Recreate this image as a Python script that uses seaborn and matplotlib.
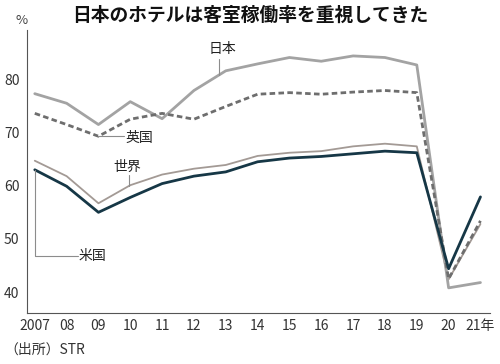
import numpy as np
import pandas as pd
import seaborn as sns
import matplotlib.pyplot as plt

# ============================================
# DATOS (客室稼働率, %)
# ============================================
years = np.arange(2007, 2022)
tick_labels = ["2007", "08", "09", "10", "11", "12", "13", "14",
               "15", "16", "17", "18", "19", "20", "21年"]

japan = [77.3, 75.5, 71.5, 75.8, 72.6, 77.9, 81.6, 82.9, 84.1, 83.4, 84.4, 84.1, 82.7, 40.8, 41.8]
uk = [73.6, 71.5, 69.3, 72.5, 73.6, 72.5, 74.9, 77.2, 77.5, 77.2, 77.6, 77.9, 77.5, 42.5, 53.4]
world = [64.7, 61.8, 56.7, 60.1, 62.1, 63.2, 63.9, 65.6, 66.2, 66.5, 67.4, 67.9, 67.4, 42.4, 52.8]
usa = [63.0, 59.9, 55.0, 57.8, 60.4, 61.8, 62.6, 64.5, 65.2, 65.5, 66.0, 66.5, 66.2, 44.4, 57.9]

# ============================================
# ESTILO
# ============================================
sns.set_theme(style="white")
plt.rcParams["font.family"] = ["Noto Sans CJK JP", "DejaVu Sans"]

fig = plt.figure(figsize=(5, 3.64), dpi=100)
ax = fig.add_axes([0.053, 0.139, 0.927, 0.779])

c_japan = "#a3a3a3"
c_uk = "#6e6e6e"
c_world = "#a39a95"
c_usa = "#163746"
c_lead = "#8c8c8c"

sns.lineplot(x=years, y=world, ax=ax, color=c_world, linewidth=1.3)
sns.lineplot(x=years, y=japan, ax=ax, color=c_japan, linewidth=2.0)
sns.lineplot(x=years, y=uk, ax=ax, color=c_uk, linewidth=2.0, linestyle=(0, (2, 1.2)))
sns.lineplot(x=years, y=usa, ax=ax, color=c_usa, linewidth=2.0)

ax.set_xlim(2006.74, 2021.3)
ax.set_ylim(36, 89.3)
ax.set_xticks(years)
ax.set_xticklabels(tick_labels)
ax.set_yticks([40, 50, 60, 70, 80])

for s in ["top", "right"]:
    ax.spines[s].set_visible(False)
for s in ["left", "bottom"]:
    ax.spines[s].set_color("#555555")
    ax.spines[s].set_linewidth(0.8)

ax.tick_params(axis="y", direction="out", length=4, width=0.8, color="#555555",
               labelsize=10, labelcolor="#333333", pad=1)
ax.tick_params(axis="x", direction="in", length=4, width=0.8, color="#555555",
               labelsize=10, labelcolor="#333333", pad=4)
ax.set_xlabel("")
ax.set_ylabel("")

# ============================================
# ETIQUETAS CON LÍNEAS GUÍA
# ============================================
# 日本
xj = 2012.78
yj = np.interp(xj, years, japan)
ax.plot([xj, xj], [yj, yj + 3.0], color=c_lead, lw=0.8)
ax.text(xj + 0.12, yj + 3.6, "日本", fontsize=10, ha="center", va="bottom", color="#222222")

# 英国
ax.plot([years[2], years[2] + 0.8], [uk[2], uk[2]], color=c_lead, lw=0.8)
ax.text(years[2] + 0.85, uk[2] - 0.3, "英国", fontsize=10, ha="left", va="center", color="#222222")

# 世界
xw = 2009.97
yw = np.interp(xw, years, world)
ax.plot([xw, xw], [yw, yw + 2.0], color=c_lead, lw=0.8)
ax.text(xw - 0.05, yw + 2.3, "世界", fontsize=10, ha="center", va="bottom", color="#222222")

# 米国
ax.plot([years[0], years[0], years[0] + 1.35], [usa[0], 46.7, 46.7], color=c_lead, lw=0.8)
ax.text(years[0] + 1.38, 46.7, "米国", fontsize=10, ha="left", va="center", color="#222222")

# ============================================
# TÍTULO Y TEXTOS
# ============================================
fig.text(0.5, 0.958, "日本のホテルは客室稼働率を重視してきた", fontsize=13.5,
         fontweight="bold", ha="center", va="center", color="#111111")
fig.text(0.044, 0.945, "%", fontsize=9.5, ha="center", va="center", color="#444444")
fig.text(0.008, 0.04, "（出所）STR", fontsize=10, ha="left", va="center", color="#333333")

fig.savefig("out.png", dpi=100)
